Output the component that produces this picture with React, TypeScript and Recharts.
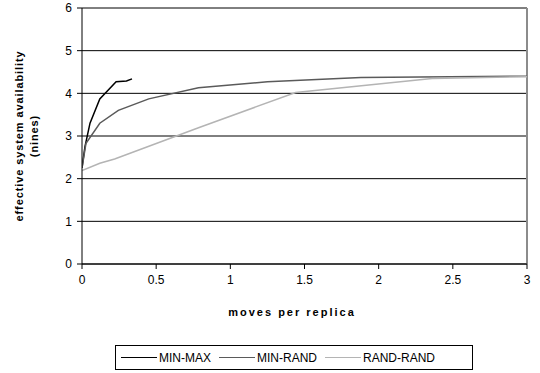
import { LineChart, Line, XAxis, YAxis, CartesianGrid, Legend, ReferenceLine } from "recharts";

// values
const minMax = [
  { x: 0, y: 2.25 },
  { x: 0.02, y: 2.75 },
  { x: 0.054, y: 3.3 },
  { x: 0.12, y: 3.87 },
  { x: 0.23, y: 4.27 },
  { x: 0.3, y: 4.29 },
  { x: 0.337, y: 4.34 },
];

const minRand = [
  { x: 0, y: 2.25 },
  { x: 0.027, y: 2.83 },
  { x: 0.12, y: 3.3 },
  { x: 0.245, y: 3.6 },
  { x: 0.45, y: 3.87 },
  { x: 0.785, y: 4.13 },
  { x: 1.25, y: 4.27 },
  { x: 1.88, y: 4.37 },
  { x: 2.48, y: 4.39 },
  { x: 3, y: 4.4 },
];

const randRand = [
  { x: 0, y: 2.19 },
  { x: 0.12, y: 2.36 },
  { x: 0.22, y: 2.46 },
  { x: 0.79, y: 3.2 },
  { x: 1.44, y: 4.02 },
  { x: 2.36, y: 4.35 },
  { x: 3, y: 4.39 },
];

const xTicks = [0, 0.5, 1, 1.5, 2, 2.5, 3];
const yTicks = [0, 1, 2, 3, 4, 5, 6];

const series = [
  { name: "MIN-MAX", data: minMax, color: "#000000" },
  { name: "MIN-RAND", data: minRand, color: "#5a5a5a" },
  { name: "RAND-RAND", data: randRand, color: "#b4b4b4" },
];

const font = "Arial, 'Liberation Sans', sans-serif";

const LegendBox = () => (
  <div
    style={{
      boxSizing: "border-box",
      width: 358,
      height: 25,
      border: "1px solid #000",
      display: "flex",
      alignItems: "center",
      paddingLeft: 5,
      fontFamily: font,
      fontSize: 12,
      color: "#000",
      background: "#fff",
    }}
  >
    {series.map((s) => (
      <span key={s.name} style={{ display: "flex", alignItems: "center", marginRight: 8 }}>
        <span style={{ display: "inline-block", width: 36, height: 0, borderTop: `1px solid ${s.color}`, marginRight: 2 }} />
        {s.name}
      </span>
    ))}
  </div>
);

const YLabel = () => (
  <text
    transform="rotate(-90, 26, 136)"
    x={26}
    y={136}
    textAnchor="middle"
    fontFamily={font}
    fontSize={11}
    fontWeight="bold"
    letterSpacing={0.9}
    fill="#000"
  >
    <tspan x={26} dy={-3}>effective system availability</tspan>
    <tspan x={26} dy={15}>(nines)</tspan>
  </text>
);

const XLabel = () => (
  <text x={292} y={316} textAnchor="middle" fontFamily={font} fontSize={11} fontWeight="bold" letterSpacing={2} fill="#000">
    moves per replica
  </text>
);

export default function App() {
  return (
    <div style={{ position: "absolute", left: 0, top: 0, width: 540, height: 373, background: "#fff" }}>
      <LineChart width={540} height={373} margin={{ top: 8, right: 13, left: 0, bottom: 0 }}>
        <CartesianGrid vertical={false} stroke="#000" horizontalValues={yTicks} />
        <ReferenceLine x={3} stroke="#8c8c8c" strokeWidth={2} />
        <XAxis
          type="number"
          dataKey="x"
          domain={[0, 3]}
          ticks={xTicks}
          allowDataOverflow
          height={109}
          stroke="#000"
          tickSize={5}
          tickMargin={6}
          tick={{ fontFamily: font, fontSize: 12, fill: "#000" }}
          label={<XLabel />}
        />
        <YAxis
          type="number"
          domain={[0, 6]}
          ticks={yTicks}
          width={82}
          stroke="#000"
          tickSize={5}
          tickMargin={5}
          tick={{ fontFamily: font, fontSize: 12, fill: "#000" }}
          label={<YLabel />}
        />
        <Legend
          layout="vertical"
          align="center"
          verticalAlign="middle"
          wrapperStyle={{ top: 345, left: 115, width: 358 }}
          content={() => <LegendBox />}
        />
        {series.map((s) => (
          <Line
            key={s.name}
            data={s.data}
            dataKey="y"
            name={s.name}
            type="linear"
            stroke={s.color}
            strokeWidth={1.5}
            dot={false}
            isAnimationActive={false}
          />
        ))}
      </LineChart>
    </div>
  );
}
